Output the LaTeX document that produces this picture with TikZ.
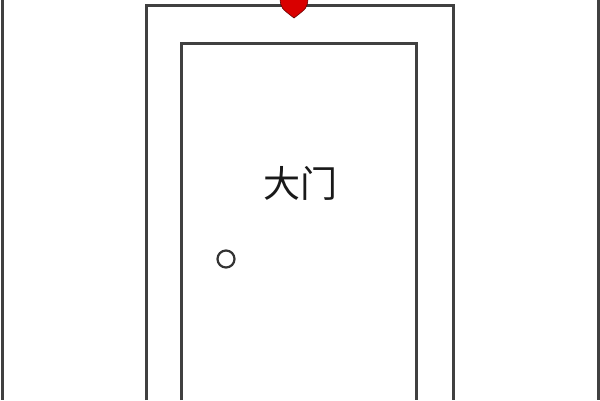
\documentclass[tikz,border=0pt]{standalone}
\usepackage{fontspec}
\newfontfamily\cjk{Noto Sans CJK SC}
\begin{document}
\begin{tikzpicture}[
        x=1pt, y=-1pt,
        muro/.style={draw=black!75, line width=3pt},
        marco/.style={draw=black!75, line width=3pt},
        rotulo/.style={font=\cjk\fontsize{37}{37}\selectfont, text=black!90}
    ]
        \useasboundingbox (0,0) rectangle (600,400);

        % Paredes laterales
        \draw[muro] (2,0) -- (2,400);
        \draw[muro] (598,0) -- (598,400);

        % Marco exterior
        \coordinate (extA) at (146.5,400);
        \coordinate (extB) at (453,400);
        \draw[marco] (extA) |- (300,5.5) -| (extB);

        % Hoja de la puerta
        \coordinate (intA) at (181,400);
        \coordinate (intB) at (416,400);
        \draw[marco] (intA) |- (300,43) -| (intB);

        % Texto y pomo
        \node[rotulo] (puerta) at (300,183) {大门};
        \node[circle, draw=black!80, line width=2.2pt, minimum size=17pt, inner sep=0pt] (pomo) at (226,259) {};

        % Marcador rojo
        \fill[red!85!black, draw=red!40!black, line width=0.6pt]
            (280,-1) .. controls (281,8) .. (294,18) .. controls (307,8) .. (308,-1) -- cycle;
    \end{tikzpicture}
\end{document}
